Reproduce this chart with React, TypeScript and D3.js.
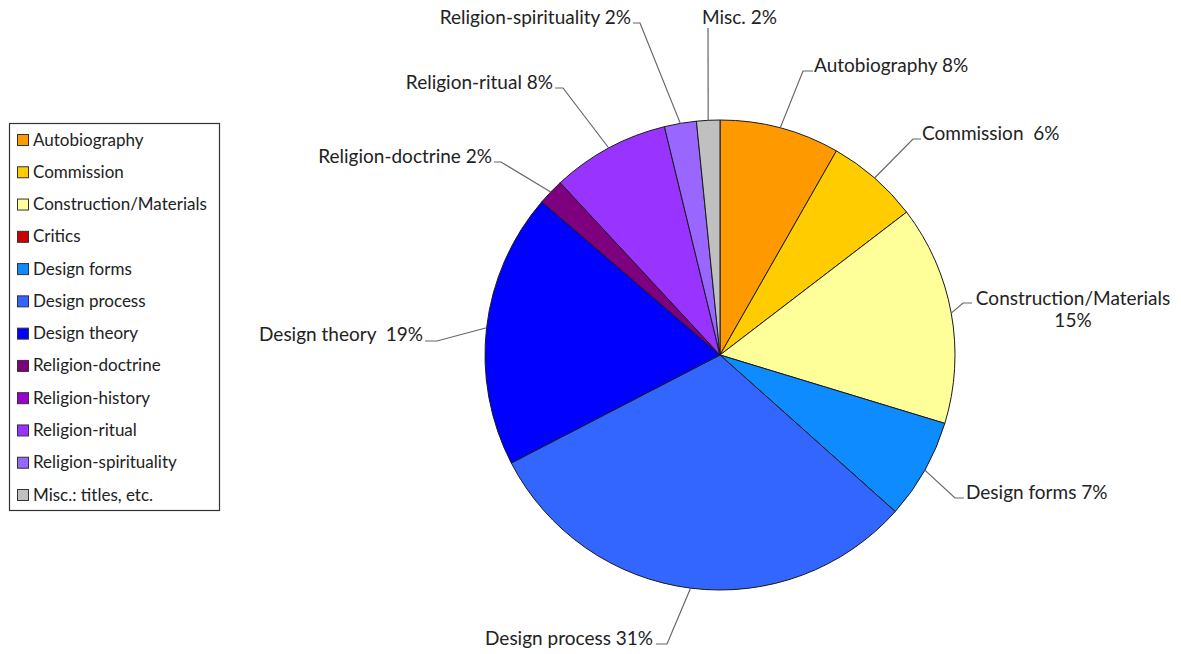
import React from "react";
import * as d3 from "d3";

const categories = [
  "Autobiography",
  "Commission",
  "Construction/Materials",
  "Critics",
  "Design forms",
  "Design process",
  "Design theory",
  "Religion-doctrine",
  "Religion-history",
  "Religion-ritual",
  "Religion-spirituality",
  "Misc.: titles, etc.",
];
const values = [8.25, 6.35, 15.1, 0, 6.9, 30.8, 18.9, 1.8, 0, 8.1, 2.2, 1.6];
const sliceLabels = [
  ["Autobiography 8%"],
  ["Commission  6%"],
  ["Construction/Materials", "15%"],
  null,
  ["Design forms 7%"],
  ["Design process 31%"],
  ["Design theory  19%"],
  ["Religion-doctrine 2%"],
  null,
  ["Religion-ritual 8%"],
  ["Religion-spirituality 2%"],
  ["Misc. 2%"],
];
const colors = [
  "#FF9900",
  "#FFCC00",
  "#FFFF99",
  "#CC0000",
  "#0E8CFF",
  "#3366FF",
  "#0000FF",
  "#7F007F",
  "#9900CC",
  "#9933FF",
  "#9966FF",
  "#C0C0C0",
];

// label layout: elbow point, stub end, text anchor point
type LL = { ex: number; ey: number; sx: number; sy: number; tx: number; ty: number; anchor: string };
const labelLayout: (LL | null)[] = [
  { ex: 803, ey: 71, sx: 813, sy: 71, tx: 814, ty: 72, anchor: "start" },
  { ex: 913, ey: 139, sx: 921, sy: 139, tx: 922, ty: 140, anchor: "start" },
  { ex: 963, ey: 303, sx: 972, sy: 303, tx: 1073, ty: 305, anchor: "middle" },
  null,
  { ex: 955, ey: 498, sx: 964, sy: 498, tx: 966, ty: 499, anchor: "start" },
  { ex: 667, ey: 644, sx: 656, sy: 644, tx: 653, ty: 645, anchor: "end" },
  { ex: 437, ey: 341, sx: 425, sy: 341, tx: 423, ty: 341, anchor: "end" },
  { ex: 501, ey: 162, sx: 494, sy: 162, tx: 492, ty: 163, anchor: "end" },
  null,
  { ex: 563, ey: 88, sx: 555, sy: 88, tx: 553, ty: 89, anchor: "end" },
  { ex: 640, ey: 23, sx: 633, sy: 23, tx: 631, ty: 24, anchor: "end" },
  { ex: 708, ey: 28, sx: 708, sy: 28, tx: 702, ty: 24, anchor: "start" },
];

const W = 1181;
const H = 654;
const CX = 720;
const CY = 355;
const R = 235;
const FONT = "Lato, 'Open Sans', sans-serif";

export default function App() {
  const pie = d3
    .pie<number>()
    .sort(null)
    .value((d) => d)
    .startAngle(0)
    .endAngle(2 * Math.PI);
  const arcs = pie(values);
  const arc = d3.arc<d3.PieArcDatum<number>>().innerRadius(0).outerRadius(R);
  const edge = d3.arc<d3.PieArcDatum<number>>().innerRadius(R).outerRadius(R);

  const legendY = d3
    .scalePoint<string>()
    .domain(categories)
    .range([140, 495]);

  return (
    <svg
      width={W}
      height={H}
      style={{ position: "absolute", left: 0, top: 0, background: "#fff" }}
      fontFamily={FONT}
    >
      <rect x={0} y={0} width={W} height={H} fill="#fff" />
      {/* Legend */}
      <rect x={9.5} y={123.5} width={210} height={387} fill="#fff" stroke="#333" strokeWidth={1.2} />
      {categories.map((c, i) => (
        <g key={c}>
          <rect
            x={17.5}
            y={legendY(c)! - 5.5}
            width={11}
            height={11}
            fill={colors[i]}
            stroke="#333"
            strokeWidth={1}
          />
          <text x={33} y={legendY(c)! + 5.5} fontSize={17} fill="#222">
            {c}
          </text>
        </g>
      ))}
      {/* Pie */}
      <g transform={`translate(${CX},${CY})`}>
        {arcs.map((a, i) =>
          a.endAngle - a.startAngle > 0 ? (
            <path key={i} d={arc(a) || ""} fill={colors[i]} stroke="#1a1a1a" strokeWidth={1} />
          ) : null
        )}
      </g>
      {/* Labels */}
      {arcs.map((a, i) => {
        const L = labelLayout[i];
        const lines = sliceLabels[i];
        if (!L || !lines) return null;
        const [px, py] = edge.centroid(a);
        const x0 = CX + px;
        const y0 = CY + py;
        return (
          <g key={"l" + i}>
            <polyline
              points={`${x0},${y0} ${L.ex},${L.ey} ${L.sx},${L.sy}`}
              fill="none"
              stroke="#666"
              strokeWidth={1.2}
            />
            {lines.map((t, k) => (
              <text
                key={k}
                x={L.tx}
                y={L.ty + k * 22}
                fontSize={19}
                textAnchor={L.anchor as any}
                fill="#222"
                style={{ whiteSpace: "pre" }}
              >
                {t}
              </text>
            ))}
          </g>
        );
      })}
    </svg>
  );
}
